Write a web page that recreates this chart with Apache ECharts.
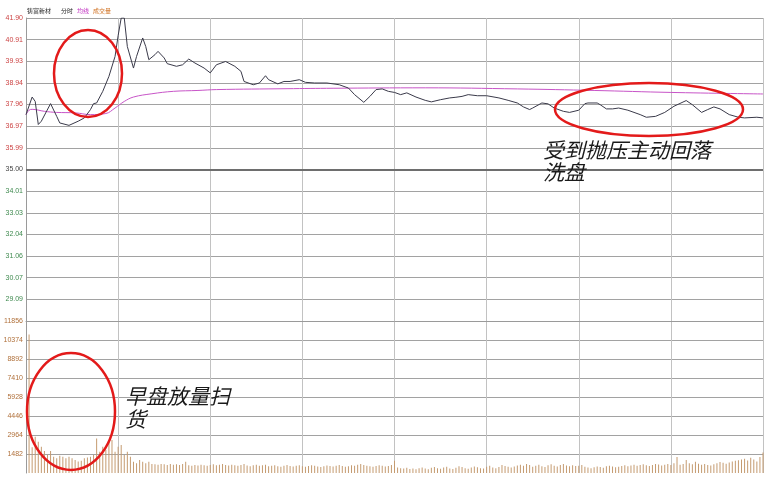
<!DOCTYPE html>
<html><head><meta charset="utf-8">
<script src="https://cdn.jsdelivr.net/npm/echarts@6/dist/echarts.min.js"></script>
<style>html,body{margin:0;padding:0;background:#fff;}#c{width:776px;height:478px;}</style>
</head><body><div id="c"></div>
<script>
// ---- data ----
const prevClose = 35.00;
const priceMinutes = [0,2,3,4,5,8,10,11,14,17,19,21,22,23,25,27,29,30,31,32,33,35,36,38,39,40,42,43,45,46,49,51,53,55,58,60,62,65,68,70,71,74,76,78,79,82,84,86,89,91,94,98,102,105,107,110,112,114,116,118,120,122,124,127,130,132,135,138,140,142,144,147,150,154,157,160,162,164,165,168,170,172,175,177,180,182,183,186,187,189,191,193,196,200,202,205,208,211,215,217,220,222,224,226,229,232,234,238,240];
const prices = [37.50,38.30,38.10,37.05,37.20,38.00,37.42,37.12,37.01,37.20,37.35,37.73,38.00,38.03,38.56,39.24,40.15,41.10,41.90,41.90,40.60,39.62,40.15,40.99,40.60,40.00,40.23,40.38,40.08,39.82,39.70,39.77,40.03,39.85,39.62,39.40,39.77,39.92,39.70,39.47,39.01,38.86,38.94,39.27,39.09,38.90,39.01,39.01,39.09,38.97,38.94,38.94,38.86,38.71,38.41,38.06,38.33,38.64,38.67,38.56,38.51,38.41,38.49,38.30,38.15,38.08,38.18,38.26,38.29,38.33,38.41,38.36,38.36,38.26,38.15,38.03,37.85,37.73,37.80,38.03,37.99,37.80,37.65,37.60,37.70,38.00,38.03,38.03,37.95,37.76,37.76,37.80,37.70,37.50,37.38,37.42,37.60,37.88,38.14,37.95,37.60,37.73,37.85,37.76,37.50,37.38,37.35,37.38,37.35];
const avgMinutes = [0,1,2,6,10,16,21,26,29,32,35,41,48,56,62,85,100,130,160,185,210,240];
const avgPrices = [37.50,37.70,37.74,37.65,37.60,37.58,37.50,37.55,37.80,38.10,38.30,38.45,38.56,38.60,38.64,38.68,38.70,38.72,38.67,38.60,38.51,38.44];
// one bar per minute, minutes 1..240
const volumes = [
 10800,2000,2820,2440,2050,1710,1400,1710,1270,
 1150,1350,1270,1150,1270,1150,1020,890,950,1150,
 1200,1270,1400,2700,1660,2050,1790,2440,2570,1660,
 2050,2180,1400,1660,1270,880,760,1020,880,760,
 880,700,680,650,700,680,620,700,650,680,
 620,700,880,600,560,620,580,640,600,560,
 620,680,600,650,700,620,580,640,600,560,
 620,700,580,520,600,640,560,600,640,520,
 560,600,520,480,560,620,540,500,560,600,
 520,480,540,600,560,500,460,520,580,540,
 500,560,620,540,480,520,600,560,640,700,
 620,560,520,480,540,600,560,500,540,620,
 950,420,380,350,400,320,360,300,380,420,
 350,300,400,460,380,340,420,480,360,320,
 400,520,460,380,340,420,500,440,380,360,
 480,560,420,380,460,620,540,480,420,500,
 580,640,560,700,620,480,560,640,520,460,
 600,680,560,500,620,700,580,520,600,540,
 560,620,480,420,380,440,500,460,400,520,
 560,500,440,480,540,600,520,580,640,560,
 620,680,600,540,620,700,660,580,640,700,
 620,760,1250,640,700,1020,760,680,880,720,
 640,700,620,580,680,760,860,800,720,820,
 900,960,1000,1060,1120,980,1180,1050,900,1240,
 1600];
const priceTickLabels = [29.09,30.07,31.06,32.04,33.03,34.01,35.00,35.99,36.97,37.96,38.94,39.93,40.91,41.90];
const priceGridValues = [28.10,29.09,30.07,31.06,32.04,33.03,34.01,35.00,35.99,36.97,37.96,38.94,39.93,40.91,41.90];
const priceMin = 28.10, priceMax = 41.90;
const volumeMax = 11856, volumeStep = 1482;
const sessionMinutes = 240, sectionMinutes = 30;

// ---- chart ----
const priceData = priceMinutes.map((m, i) => [m, prices[i]]);
const avgData = avgMinutes.map((m, i) => [m, avgPrices[i]]);
const volData = volumes.map((v, i) => [i + 1, v]);

const chart = echarts.init(document.getElementById('c'), null, {renderer: 'canvas'});
const labelFont = 'Liberation Sans';
chart.setOption({
  animation: false,
  backgroundColor: '#ffffff',
  grid: [
    {left: 26, right: 13, top: 18, height: 303},
    {left: 26, right: 13, top: 321, height: 152}
  ],
  xAxis: [
    {type: 'value', gridIndex: 0, min: 0, max: sessionMinutes, interval: sectionMinutes,
     axisLine: {show: true, onZero: false, lineStyle: {color: '#9a9a9a'}},
     axisTick: {show: false}, axisLabel: {show: false},
     splitLine: {show: true, lineStyle: {color: '#c2c2c2', width: 1}}},
    {type: 'value', gridIndex: 1, min: 0, max: sessionMinutes, interval: sectionMinutes,
     axisLine: {show: false}, axisTick: {show: false}, axisLabel: {show: false},
     splitLine: {show: true, lineStyle: {color: '#c2c2c2', width: 1}}}
  ],
  yAxis: [
    {type: 'value', gridIndex: 0, min: priceMin, max: priceMax,
     axisLine: {show: true, lineStyle: {color: '#9a9a9a'}},
     axisTick: {show: false, customValues: priceGridValues},
     axisLabel: {customValues: priceTickLabels, fontSize: 7, fontFamily: labelFont, margin: 3,
       formatter: v => v.toFixed(2),
       color: v => (Math.abs(v - prevClose) < 0.005 ? '#444444' : (v > prevClose ? '#cc4444' : '#3f8a4f'))},
     splitLine: {show: true, lineStyle: {color: '#a2a2a2', width: 1}}},
    {type: 'value', gridIndex: 1, min: 0, max: volumeMax, interval: volumeStep,
     axisLine: {show: true, lineStyle: {color: '#9a9a9a'}},
     axisTick: {show: false},
     axisLabel: {fontSize: 7, fontFamily: labelFont, margin: 3, color: '#b0703a',
       formatter: v => (v === 0 ? '' : String(v))},
     splitLine: {show: true, showMinLine: false, lineStyle: {color: '#a2a2a2', width: 1}}}
  ],
  series: [
    {type: 'line', name: '均线', xAxisIndex: 0, yAxisIndex: 0, data: avgData, symbol: 'none',
     smooth: 0.4, lineStyle: {color: '#c855c8', width: 1}, silent: true, z: 3},
    {type: 'line', name: '分时', xAxisIndex: 0, yAxisIndex: 0, data: priceData, symbol: 'none',
     lineStyle: {color: '#3a3a4a', width: 1}, silent: true, z: 4,
     markLine: {silent: true, symbol: 'none', label: {show: false},
       lineStyle: {color: '#6e6e6e', width: 2, type: 'solid'},
       data: [{yAxis: prevClose}]}},
    {type: 'bar', name: '成交量', xAxisIndex: 1, yAxisIndex: 1, data: volData, barWidth: 1,
     itemStyle: {color: '#c59b70'}, silent: true}
  ],
  graphic: [
    {type: 'text', left: 27, top: 8, style: {text: '铸富新材', fontSize: 6, fill: '#222', fontFamily: 'Noto Sans CJK SC'}},
    {type: 'text', left: 61, top: 8, style: {text: '分时', fontSize: 6, fill: '#222', fontFamily: 'Noto Sans CJK SC'}},
    {type: 'text', left: 77, top: 8, style: {text: '均线', fontSize: 6, fill: '#c030c0', fontFamily: 'Noto Sans CJK SC'}},
    {type: 'text', left: 93, top: 8, style: {text: '成交量', fontSize: 6, fill: '#d07020', fontFamily: 'Noto Sans CJK SC'}},
    {type: 'ellipse', shape: {cx: 88, cy: 73.5, rx: 34, ry: 43.5}, style: {fill: 'none', stroke: '#e31a1a', lineWidth: 2.5}, z: 10},
    {type: 'ellipse', shape: {cx: 71, cy: 411.5, rx: 44, ry: 58.5}, style: {fill: 'none', stroke: '#e31a1a', lineWidth: 2.5}, z: 10},
    {type: 'ellipse', shape: {cx: 649, cy: 109.5, rx: 94, ry: 26.5}, style: {fill: 'none', stroke: '#e31a1a', lineWidth: 2.5}, z: 10},
    {type: 'text', left: 125, top: 386, style: {text: '早盘放量扫', fontSize: 21, fontStyle: 'italic', fill: '#1a1a1a', fontFamily: 'Noto Sans CJK SC'}, z: 10},
    {type: 'text', left: 125, top: 409, style: {text: '货', fontSize: 21, fontStyle: 'italic', fill: '#1a1a1a', fontFamily: 'Noto Sans CJK SC'}, z: 10},
    {type: 'text', left: 543, top: 140, style: {text: '受到抛压主动回落', fontSize: 21, fontStyle: 'italic', fill: '#1a1a1a', fontFamily: 'Noto Sans CJK SC'}, z: 10},
    {type: 'text', left: 543, top: 162, style: {text: '洗盘', fontSize: 21, fontStyle: 'italic', fill: '#1a1a1a', fontFamily: 'Noto Sans CJK SC'}, z: 10}
  ]
});
</script>
</body></html>
